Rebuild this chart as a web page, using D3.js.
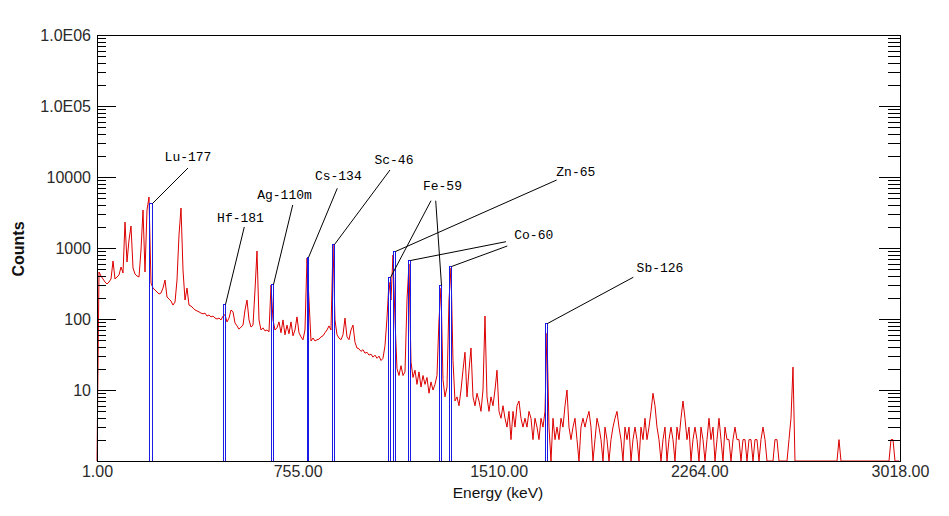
<!DOCTYPE html>
<html><head><meta charset="utf-8">
<script src="https://cdn.jsdelivr.net/npm/d3@7"></script>
<style>
body{margin:0;background:#fff}
svg{display:block}
</style>
</head><body>
<svg id="chart" width="949" height="516"></svg>
<script>
// ---------- DATA ----------
const energyStart = 1;          // keV, first bin
const energyEnd = 3018;         // keV
const binWidthKeV = 7.5143;     // keV per bin
const spectrumCounts = [
  0,459,403,366,332,311,332,366,656,366,
  391,417,540,444,2320,635,1297,2042,523,430,
  403,391,937,3427,459,3427,5227,321,273,256,
  240,225,232,273,354,204,191,179,157,173,
  354,1524,3656,490,185,273,157,152,143,134,
  130,126,121,118,121,110,114,107,110,103,
  100,103,97,110,115,91,103,134,126,88,
  80,72,77,82,134,185,97,77,82,256,
  907,97,70,75,68,70,66,300,97,70,
  75,91,64,97,60,82,62,91,58,70,
  107,64,56,51,70,720,185,49,54,49,
  51,52,56,58,64,70,80,70,1100,97,
  60,54,51,60,103,56,51,70,82,47,
  39,38,35,37,33,34,31,32,29,31,
  28,30,26,28,42,103,330,185,797,97,
  20,16,22,16,18,185,595,25,15,19,
  12,18,11,16,12,15,9,13,10,12,
  16,97,273,14,8,11,185,523,26,7,
  8,6,10,19,34,8,19,39,8,6,
  9,7,5,10,110,8,5,8,6,10,
  19,5,4,6,4,3,5,2,5,3,
  6,7,4,3,4,3,5,4,2,4,
  3,2,4,3,5,63,3,0,4,2,
  3,2,4,3,6,10,3,2,3,4,
  2,0,3,4,3,4,5,3,0,2,
  4,3,2,0,3,2,0,2,3,4,
  5,3,2,0,3,2,3,0,2,3,
  2,0,3,2,4,2,3,5,9,6,
  3,2,0,2,3,0,2,3,2,0,
  3,2,4,7,4,2,3,0,2,3,
  2,0,3,2,0,2,4,2,3,0,
  2,4,2,0,3,2,2,0,2,3,
  2,2,0,2,2,0,2,2,0,2,
  2,0,2,3,2,0,0,0,0,2,
  2,0,0,0,0,0,2,4,21,0,
  0,0,0,0,0,0,0,0,0,0,
  0,0,0,0,0,0,0,0,0,0,
  0,2,0,0,0,0,0,0,0,0,
  0,0,0,0,0,0,0,0,0,0,
  0,0,0,0,0,0,0,2,2,0,
  0,0
];

const xTickValues = [1, 755, 1510, 2264, 3018];
const xTickLabels = ["1.00", "755.00", "1510.00", "2264.00", "3018.00"];
const yTickValues = [10, 100, 1000, 10000, 100000, 1000000];
const yTickLabels = ["10", "100", "1000", "10000", "1.0E05", "1.0E06"];

// identified peaks (ROI markers)
const peakEnergy = [201.3, 480.0, 657.4, 793.0, 887.7, 1097.0, 1115.7, 1172.0, 1289.7, 1328.5, 1689.0];
const peakCounts = [4305, 163, 316, 740, 1138, 394, 907, 677, 301, 557, 89];
const peakRoiKeV = [11.3, 7.5, 7.5, 3.8, 3.8, 7.5, 7.5, 7.5, 7.5, 7.5, 7.5];

// nuclide labels (anchored in energy / counts)
const labelNames = ["Lu-177", "Hf-181", "Ag-110m", "Cs-134", "Sc-46", "Fe-59", "Zn-65", "Co-60", "Sb-126"];
const labelEnergy = [342.9, 540.2, 705.5, 907.6, 1116.8, 1299.0, 1799.9, 1642.0, 2116.3];
const labelCounts = [16800, 2323, 4978, 9220, 15490, 6665, 10330, 1318, 459];

// leader lines: label -> peak
const leaderLabel = [0, 1, 2, 3, 4, 5, 5, 6, 7, 7, 8];
const leaderPeak = [0, 1, 2, 3, 4, 5, 8, 6, 7, 9, 10];
const leaderEnergy = [343, 554.4, 736.3, 903.8, 1101.8, 1255.9, 1273.6, 1728.1, 1537.6, 1542.5, 2015.9];
const leaderCounts = [13400, 1977, 4034, 6930, 12550, 4637, 4637, 9070, 1227, 1067, 387];

// ---------- CHART ----------
const svg = d3.select("#chart");
const L = 97, R = 900, T = 35, B = 461;
const x = d3.scaleLinear().domain([energyStart, energyEnd]).range([L, R]);
const y = d3.scaleLog().domain([1, 1e6]).range([B, T]);
const yc = v => y(Math.max(1, v));

const minorTicks = [];
for (let d = 1; d < 1e6; d *= 10) for (let m = 2; m <= 9; m++) minorTicks.push(d * m);

// spectrum
const spectrum = spectrumCounts.map((c, i) => ({ e: energyStart + i * binWidthKeV, c }));
svg.append("path")
  .datum(spectrum)
  .attr("fill", "none")
  .attr("stroke", "#dc0000")
  .attr("stroke-width", 1)
  .attr("d", d3.line().x(d => x(d.e)).y(d => yc(d.c)));

// peak ROI rectangles
const peaks = peakEnergy.map((e, i) => {
  const x0 = Math.round(x(e - peakRoiKeV[i] / 2)) + 0.5;
  const x1 = Math.round(x(e + peakRoiKeV[i] / 2)) + 0.5;
  const top = Math.round(y(peakCounts[i])) + 0.5;
  return { x0, x1, top };
});
svg.append("g").selectAll("rect").data(peaks).join("rect")
  .attr("x", d => d.x0).attr("y", d => d.top)
  .attr("width", d => Math.max(1, d.x1 - d.x0)).attr("height", d => (B + 0.5) - d.top)
  .attr("fill", "none").attr("stroke", "#1a1ae6").attr("stroke-width", 1)
  .attr("shape-rendering", "crispEdges");

// leader lines
svg.append("g").selectAll("line").data(leaderLabel).join("line")
  .attr("x1", (d, i) => x(leaderEnergy[i]))
  .attr("y1", (d, i) => y(leaderCounts[i]))
  .attr("x2", (d, i) => peaks[leaderPeak[i]].x1)
  .attr("y2", (d, i) => peaks[leaderPeak[i]].top)
  .attr("stroke", "#000").attr("stroke-width", 1);

// labels
svg.append("g").selectAll("text").data(labelNames).join("text")
  .attr("x", (d, i) => x(labelEnergy[i]))
  .attr("y", (d, i) => y(labelCounts[i]))
  .attr("text-anchor", "middle")
  .attr("font-family", "'Liberation Mono', 'DejaVu Sans Mono', monospace")
  .attr("font-size", 13)
  .attr("fill", "#000")
  .text(d => d);

// frame
svg.append("rect")
  .attr("x", L + 0.5).attr("y", T + 0.5)
  .attr("width", R - L).attr("height", B - T)
  .attr("fill", "none").attr("stroke", "#000").attr("stroke-width", 1)
  .attr("shape-rendering", "crispEdges");

// y ticks (inward on both sides)
function tickAxis(axis, tx) {
  const g = svg.append("g").attr("transform", `translate(${tx},0)`).call(axis);
  g.select(".domain").remove();
  g.selectAll("line").attr("stroke", "#000").attr("shape-rendering", "crispEdges");
  return g;
}
tickAxis(d3.axisRight(y).tickValues(yTickValues).tickSize(19).tickFormat(""), L);
tickAxis(d3.axisRight(y).tickValues(minorTicks).tickSize(9).tickFormat(""), L);
tickAxis(d3.axisLeft(y).tickValues(yTickValues).tickSize(21).tickFormat(""), R);
tickAxis(d3.axisLeft(y).tickValues(minorTicks).tickSize(12).tickFormat(""), R);

// y labels
const yl = svg.append("g").attr("transform", `translate(${L},0)`)
  .call(d3.axisLeft(y).tickValues(yTickValues).tickSize(0).tickPadding(6)
    .tickFormat((d, i) => yTickLabels[i]));
yl.select(".domain").remove();
yl.selectAll("text").attr("font-family", "'Liberation Sans', Arial, sans-serif")
  .attr("font-size", 16).attr("fill", "#2a2a2a");

// x labels
const xl = svg.append("g").attr("transform", `translate(0,${B})`)
  .call(d3.axisBottom(x).tickValues(xTickValues).tickSize(0).tickPadding(5)
    .tickFormat((d, i) => xTickLabels[i]));
xl.select(".domain").remove();
xl.selectAll("text").attr("font-family", "'Liberation Sans', Arial, sans-serif")
  .attr("font-size", 16).attr("fill", "#2a2a2a");

// axis titles
svg.append("text")
  .attr("x", 498).attr("y", 498)
  .attr("text-anchor", "middle")
  .attr("font-family", "'Liberation Sans', Arial, sans-serif")
  .attr("font-size", 15.5).attr("fill", "#111")
  .text("Energy (keV)");
svg.append("text")
  .attr("transform", "translate(24,249) rotate(-90)")
  .attr("text-anchor", "middle")
  .attr("font-family", "'Liberation Sans', Arial, sans-serif")
  .attr("font-size", 16).attr("font-weight", "bold").attr("fill", "#111")
  .text("Counts");
</script>
</body></html>
